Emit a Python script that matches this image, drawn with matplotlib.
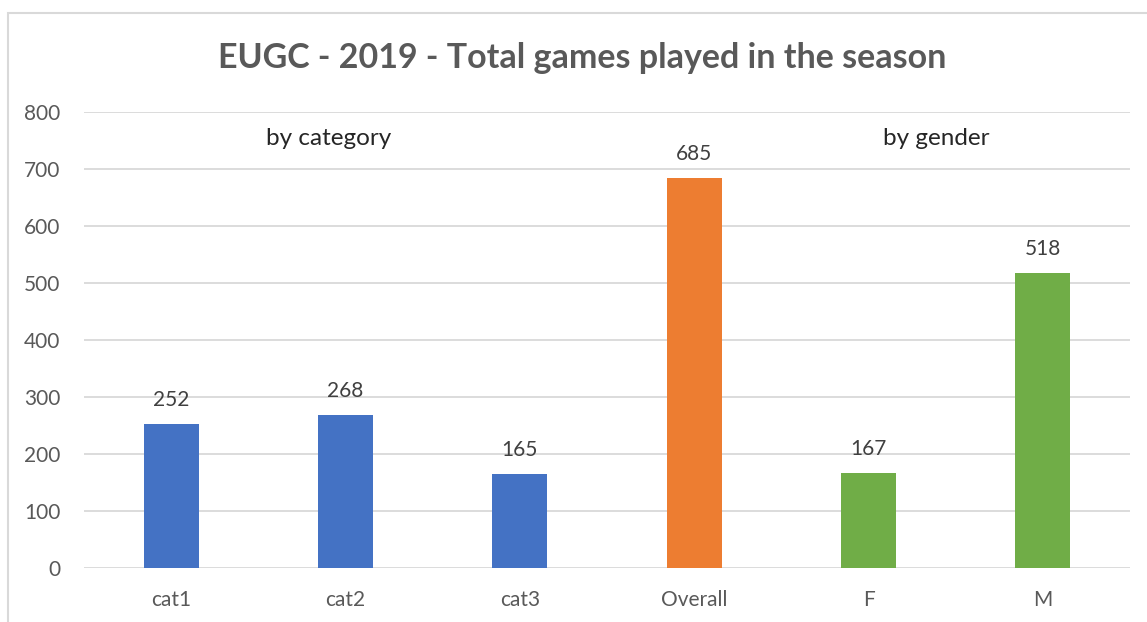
import matplotlib
matplotlib.use("Agg")
import matplotlib.pyplot as plt
from matplotlib.patches import Rectangle

# chart data
categories = ["cat1", "cat2", "cat3", "Overall", "F", "M"]
games = [252, 268, 165, 685, 167, 518]
bar_colors = ["#4472C4", "#4472C4", "#4472C4", "#ED7D31", "#70AD47", "#70AD47"]
y_ticks = [0, 100, 200, 300, 400, 500, 600, 700, 800]

plt.rcParams['font.family'] = ['Lato', 'DejaVu Sans']

fig = plt.figure(figsize=(11.47, 6.22), dpi=100)
ax = fig.add_axes([0.0732, 0.0868, 0.912, 0.7332])

x = list(range(len(categories)))
bars = ax.bar(x, games, width=0.316, color=bar_colors, zorder=3)

for b, v in zip(bars, games):
    ax.annotate(str(v), (b.get_x() + b.get_width() / 2, v), xytext=(0, 10),
                textcoords="offset points", ha="center", va="bottom",
                fontsize=15, color="#404040")

ax.set_xlim(-0.5, len(categories) - 0.5)
ax.set_ylim(0, 800)
ax.set_yticks(y_ticks)
ax.set_xticks(x)
ax.set_xticklabels(categories)
ax.grid(axis="y", color="#D9D9D9", linewidth=1.3, zorder=0)
for s in ax.spines.values():
    s.set_visible(False)
ax.tick_params(length=0, labelsize=15, labelcolor="#595959")
ax.tick_params(axis="x", pad=16)
ax.tick_params(axis="y", pad=17)

ax.text(0.906, 754, "by category", ha="center", va="center", fontsize=17.5, color="#262626")
ax.text(4.39, 754, "by gender", ha="center", va="center", fontsize=17.5, color="#262626")

fig.text(0.508, 0.906, "EUGC - 2019 - Total games played in the season", ha="center",
         va="center", fontsize=24.5, fontweight="bold", color="#595959")

# chart frame (cropped at right and bottom)
fig.add_artist(Rectangle((8 / 1147, -0.1), 1.2, 1.1 - 13 / 622, transform=fig.transFigure,
                         fill=False, edgecolor="#D9D9D9", linewidth=1.5))

fig.savefig("out.png", dpi=100)
